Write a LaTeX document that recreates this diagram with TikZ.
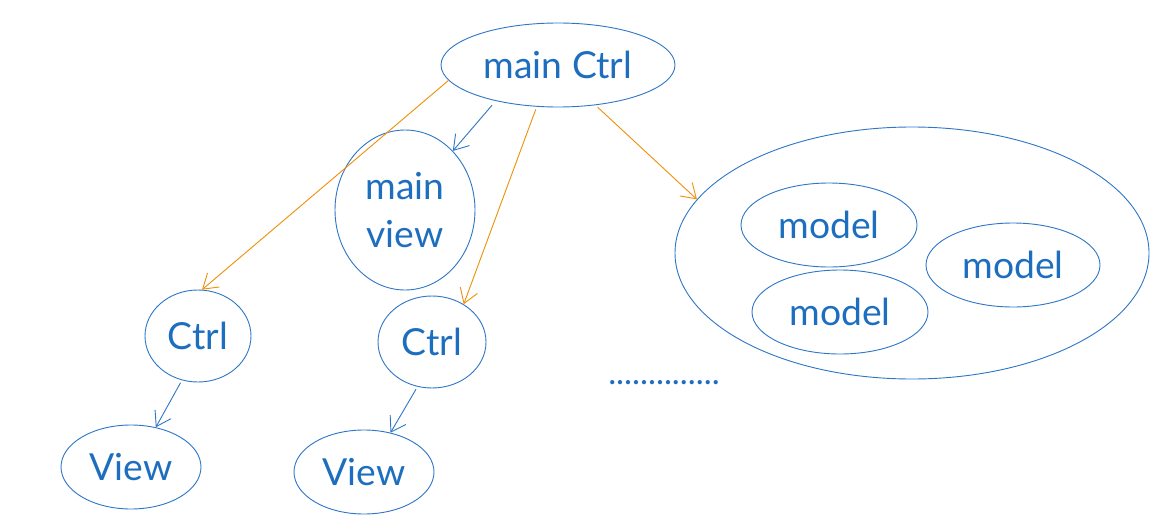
\documentclass[tikz,border=0pt]{standalone}
\usepackage{fontspec}
\setmainfont{Lato}
\usetikzlibrary{shapes.geometric,arrows.meta}
\definecolor{lblue}{HTML}{2F77C6}
\definecolor{tblue}{HTML}{1E6EBF}
\definecolor{lorange}{HTML}{F0900A}
\begin{document}
\begin{tikzpicture}[x=0.025cm,y=-0.025cm,
  el/.style n args={2}{ellipse, draw=lblue, line width=0.65pt, inner sep=0pt,
    minimum width=#1*0.025cm, minimum height=#2*0.025cm,
    text=tblue, font=\fontsize{26.5}{34}\selectfont, align=center},
  tip/.style={-{Straight Barb[length=10pt,width=13pt]}, line width=0.65pt},
  barrow/.style={tip, draw=lblue},
  oarrow/.style={tip, draw=lorange},
  dots/.style={text=tblue, font=\fontsize{24}{34}\selectfont, inner sep=0pt}
]
\useasboundingbox (0,0) rectangle (1170,532);
\node[el={234}{84}] (mc) at (558,65) {main Ctrl};
\node[el={140}{160}] (mv) at (405,210) {main\\view};
\node[el={106}{92}] (c1) at (198,336) {Ctrl};
\node[el={108}{92}] (c2) at (432,342) {Ctrl};
\node[el={140}{84}] (v1) at (131,467) {View};
\node[el={140}{84}] (v2) at (364,472) {View};
\node[el={474}{252}] (big) at (912,253) {};
\node[el={176}{84}] (m1) at (829,225) {model};
\node[el={174}{84}] (m2) at (1013,265) {model};
\node[el={176}{84}] (m3) at (840,312) {model};
\node[dots, anchor=base] (dd) at (664,384) {..............};
\draw[oarrow] (mc.188) -- (c1.85);
\draw[barrow, shorten <=4pt] (mc.210) -- (mv.51);
\draw[oarrow, shorten <=2pt] (mc.243) -- (c2.50);
\draw[oarrow, shorten <=2pt] (mc.313) -- (big.166);
\draw[barrow, shorten <=2pt] (c1.250) -- (v1.58);
\draw[barrow, shorten <=2pt] (c2.252) -- (v2.56);
\end{tikzpicture}
\end{document}
